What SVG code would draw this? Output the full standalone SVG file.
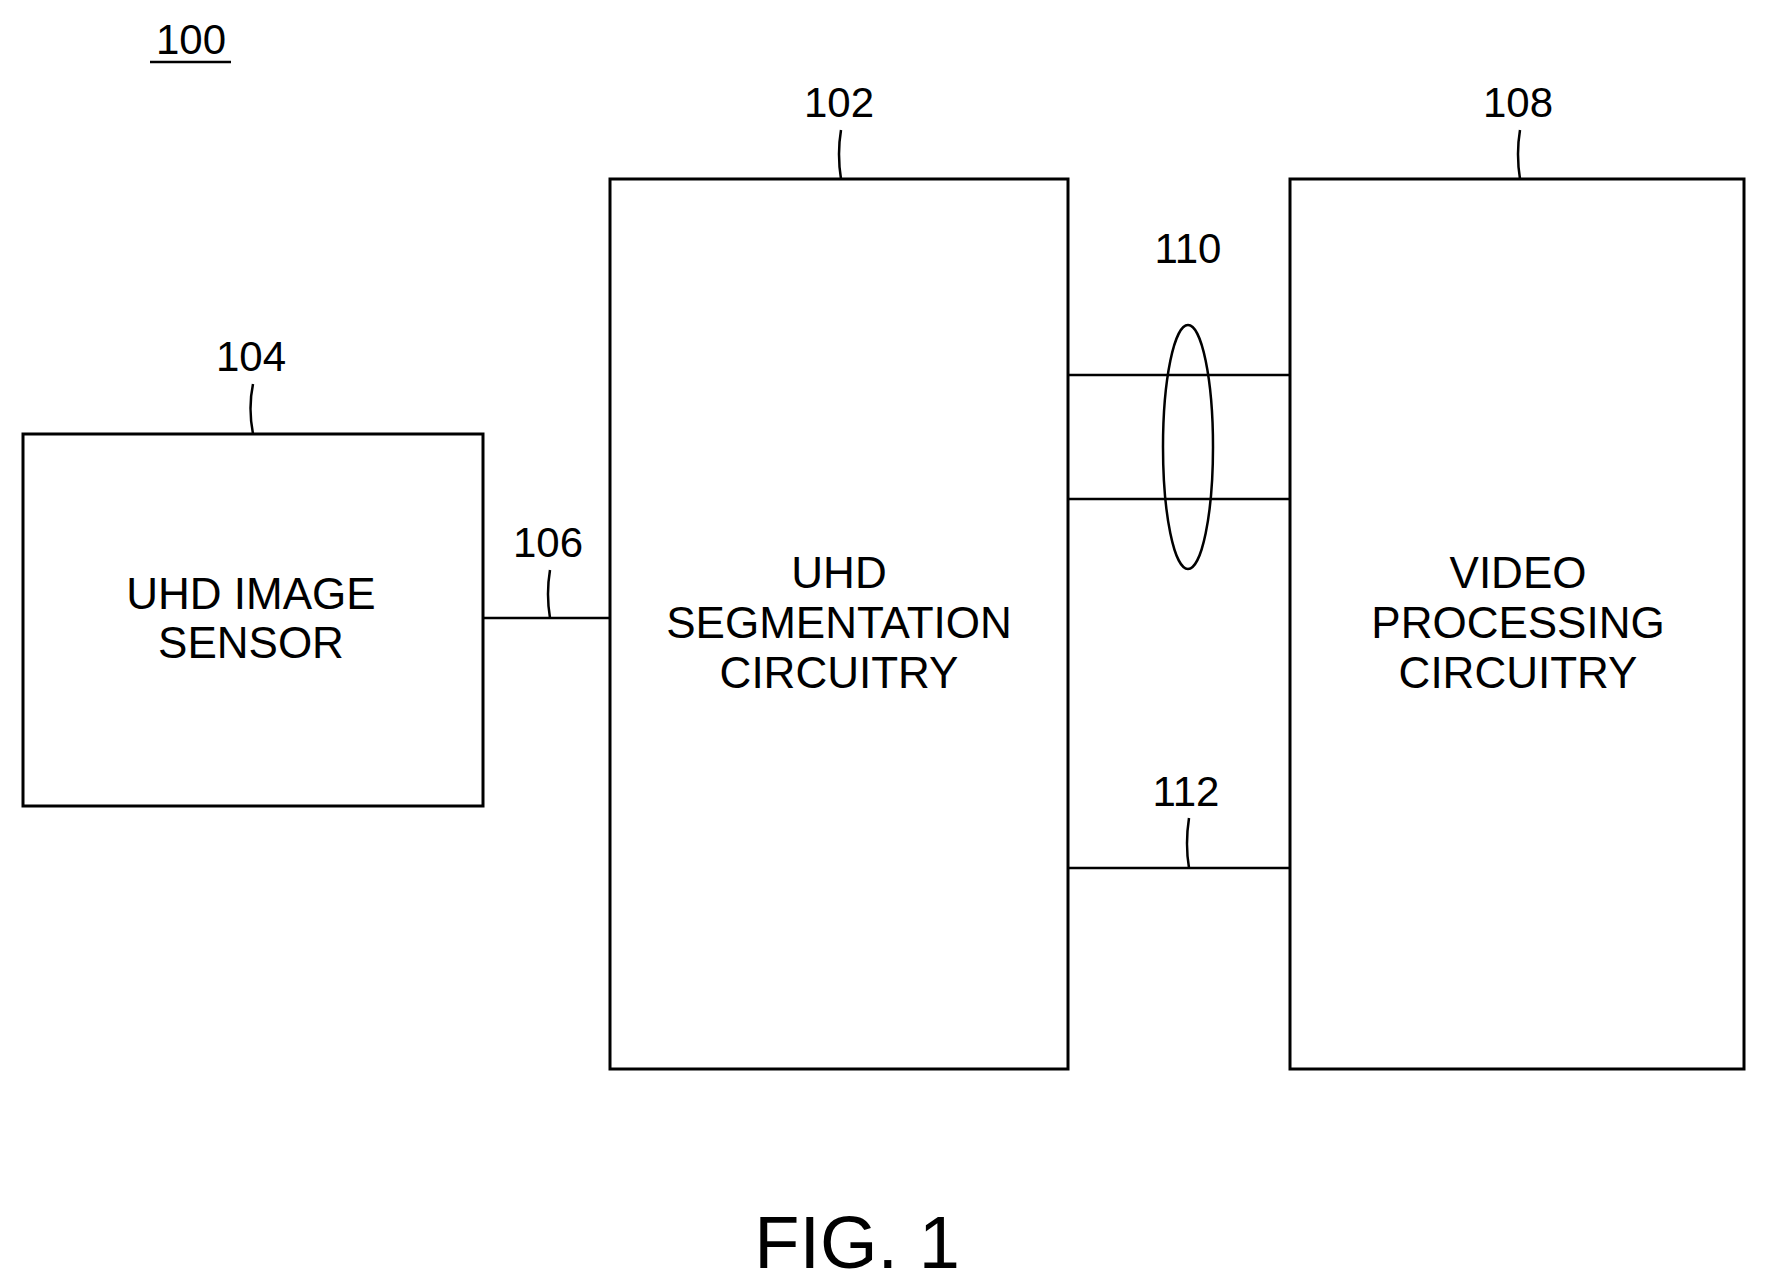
<svg xmlns="http://www.w3.org/2000/svg" width="1767" height="1286" viewBox="0 0 1767 1286">
<style>
.b{fill:#fff;stroke:#000;stroke-width:3}
.l{fill:none;stroke:#000;stroke-width:2.5}
.t{font-family:"Liberation Sans",Arial,sans-serif;font-size:44px;text-anchor:middle;fill:#000}
.n{font-family:"Liberation Sans",Arial,sans-serif;font-size:42px;text-anchor:middle;fill:#000}
</style>
<rect width="1767" height="1286" fill="#fff"/>
<text class="n" x="191" y="54">100</text>
<line x1="150" y1="62" x2="231" y2="62" stroke="#000" stroke-width="2.5"/>
<g id="n104">
<rect class="b" x="23" y="434" width="460" height="372"/>
<text class="t" x="251" y="609">UHD IMAGE</text>
<text class="t" x="251" y="658">SENSOR</text>
<text class="n" x="251" y="371">104</text>
<path class="l" d="M253 384 Q248 408 253 434"/>
</g>
<g id="n102">
<rect class="b" x="610" y="179" width="458" height="890"/>
<text class="t" x="839" y="588">UHD</text>
<text class="t" x="839" y="638">SEGMENTATION</text>
<text class="t" x="839" y="688">CIRCUITRY</text>
<text class="n" x="839" y="117">102</text>
<path class="l" d="M841 130 Q837 154 841 179"/>
</g>
<g id="n108">
<rect class="b" x="1290" y="179" width="454" height="890"/>
<text class="t" x="1518" y="588">VIDEO</text>
<text class="t" x="1518" y="638">PROCESSING</text>
<text class="t" x="1518" y="688">CIRCUITRY</text>
<text class="n" x="1518" y="117">108</text>
<path class="l" d="M1520 130 Q1516 154 1520 179"/>
</g>
<g id="connectors">
<line class="l" x1="483" y1="618" x2="610" y2="618"/>
<text class="n" x="548" y="557">106</text>
<path class="l" d="M550 570 Q546 594 550 618"/>
<line class="l" x1="1068" y1="375" x2="1290" y2="375"/>
<line class="l" x1="1068" y1="499" x2="1290" y2="499"/>
<ellipse class="l" cx="1188" cy="447" rx="25" ry="122"/>
<text class="n" x="1188" y="263">110</text>
<line class="l" x1="1068" y1="868" x2="1290" y2="868"/>
<text class="n" x="1186" y="806">112</text>
<path class="l" d="M1189 818 Q1185 844 1189 868"/>
</g>
<text class="t" x="857" y="1268" style="font-size:74px">FIG. 1</text>
</svg>
